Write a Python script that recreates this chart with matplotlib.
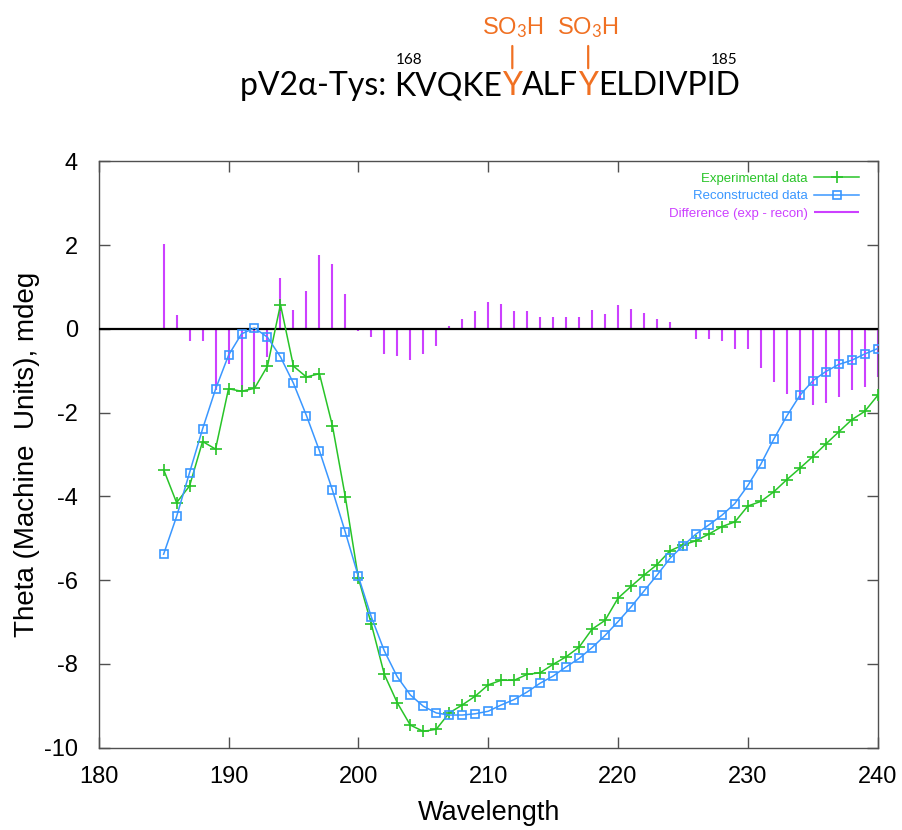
import matplotlib
matplotlib.use("Agg")
import matplotlib.pyplot as plt

# ---------------- data ----------------
wavelength = list(range(185, 241))

experimental = [
    -3.36, -4.15, -3.75, -2.69, -2.87, -1.43, -1.49, -1.42, -0.89, 0.58,
    -0.89, -1.15, -1.07, -2.31, -4.02, -5.95, -7.05, -8.25, -8.93, -9.46,
    -9.61, -9.56, -9.17, -8.98, -8.77, -8.50, -8.39, -8.39, -8.25, -8.21,
    -8.01, -7.83, -7.60, -7.17, -6.96, -6.43, -6.15, -5.88, -5.63, -5.30,
    -5.16, -5.06, -4.90, -4.72, -4.61, -4.23, -4.12, -3.89, -3.60, -3.33,
    -3.05, -2.75, -2.46, -2.17, -1.97, -1.59,
]

reconstructed = [
    -5.38, -4.48, -3.43, -2.39, -1.44, -0.63, -0.12, 0.02, -0.20, -0.67,
    -1.30, -2.07, -2.91, -3.85, -4.86, -5.91, -6.88, -7.69, -8.31, -8.74,
    -9.01, -9.17, -9.22, -9.22, -9.19, -9.13, -8.98, -8.85, -8.67, -8.46,
    -8.29, -8.07, -7.87, -7.61, -7.32, -6.99, -6.64, -6.26, -5.88, -5.48,
    -5.18, -4.90, -4.68, -4.45, -4.17, -3.74, -3.23, -2.63, -2.08, -1.59,
    -1.24, -1.02, -0.85, -0.75, -0.60, -0.47,
]

difference = [
    2.02, 0.32, -0.30, -0.30, -1.47, -0.83, -1.47, -1.43, -0.67, 1.22,
    0.46, 0.90, 1.77, 1.54, 0.84, -0.05, -0.20, -0.59, -0.66, -0.75,
    -0.59, -0.42, 0.06, 0.24, 0.42, 0.63, 0.59, 0.42, 0.42, 0.28,
    0.28, 0.28, 0.28, 0.45, 0.35, 0.56, 0.48, 0.39, 0.24, 0.17,
    0.03, -0.24, -0.24, -0.28, -0.48, -0.48, -0.94, -1.28, -1.56, -1.71,
    -1.81, -1.77, -1.63, -1.45, -1.39, -1.15,
]

x_ticks = [180, 190, 200, 210, 220, 230, 240]
y_ticks = [4, 2, 0, -2, -4, -6, -8, -10]

labels = ["Experimental data", "Reconstructed data", "Difference (exp - recon)"]
x_label = "Wavelength"
y_label = "Theta (Machine  Units), mdeg"

seq_prefix = "pV2\u03b1-Tys: "
seq_parts = ["KVQKE", "Y", "ALF", "Y", "ELDIVPID"]
seq_start, seq_end = "168", "185"
sulfo = "SO$_3$H"

# ---------------- style ----------------
GREEN = "#28c428"
BLUE = "#3a97ff"
MAGENTA = "#cc40ff"
ORANGE = "#f07022"
FRAME = "#505050"

plt.rcParams["font.family"] = ["Liberation Sans", "DejaVu Sans"]
plt.rcParams["axes.unicode_minus"] = False
plt.rcParams["mathtext.fontset"] = "custom"
plt.rcParams["mathtext.rm"] = "Lato"
plt.rcParams["mathtext.it"] = "Lato:italic"
plt.rcParams["mathtext.bf"] = "Lato:bold"

W, H = 902, 830
fig = plt.figure(figsize=(W / 100, H / 100), dpi=100)

left, right, top, bottom = 98.7, 877.7, 161.3, 747.7
ax = fig.add_axes([left / W, 1 - bottom / H, (right - left) / W, (bottom - top) / H])

# difference sticks
ax.vlines(wavelength, 0, difference, color=MAGENTA, lw=1.5, zorder=2,
          label=labels[2], clip_on=False)
ax.axhline(0, color="black", lw=1.6, zorder=3)

ax.plot(wavelength, experimental, color=GREEN, lw=1.1, marker="+",
        markersize=9, markeredgewidth=1.2, zorder=4, label=labels[0])
ax.plot(wavelength, reconstructed, color=BLUE, lw=1.1, marker="s",
        markersize=6.3, markerfacecolor="none", markeredgewidth=1.2,
        zorder=5, label=labels[1])

ax.set_xlim(180, 240)
ax.set_ylim(-10, 4)
ax.set_xticks(x_ticks)
ax.set_yticks(y_ticks)
ax.tick_params(direction="in", length=8, width=1.0, color=FRAME,
               top=True, right=True, labelsize=17)
ax.tick_params(axis="y", pad=15)
ax.tick_params(axis="x", pad=13)
for s in ax.spines.values():
    s.set_color(FRAME)
    s.set_linewidth(1.0)

fig.text(489 / W, 1 - 800 / H, x_label, ha="center", va="top", fontsize=19.5)
fig.text(27 / W, 1 - 454.5 / H, y_label, ha="center", va="center",
         rotation=90, fontsize=20)

# legend
hdl, lab = ax.get_legend_handles_labels()
hd = {lb: hn for hn, lb in zip(hdl, lab)}
leg = ax.legend([hd[x] for x in labels], labels, loc="upper right",
                frameon=False, markerfirst=False, numpoints=1,
                fontsize=9.5, handlelength=3.4, handletextpad=0.5,
                labelspacing=0.42, borderaxespad=0.3,
                bbox_to_anchor=(0.988, 0.997))
for t, c in zip(leg.get_texts(), [GREEN, BLUE, MAGENTA]):
    t.set_color(c)

# ---------------- header (peptide sequence) ----------------
HFS = 23
hfam = ["Lato", "DejaVu Sans"]
t0 = fig.text(240 / W, 1 - 95 / H, seq_prefix, fontsize=HFS, family=hfam,
              va="baseline", ha="left")
prev = t0
pieces = []
for part in seq_parts:
    col = ORANGE if part == "Y" else "black"
    ann = ax.annotate(part, xy=(1, 0), xycoords=prev, va="bottom", ha="left",
                      fontsize=HFS, family=hfam, color=col,
                      annotation_clip=False)
    pieces.append(ann)
    prev = ann

ax.annotate(seq_start, xy=(0, 1), xycoords=pieces[0], xytext=(1, 3),
            textcoords="offset points", ha="left", va="bottom",
            fontsize=11, family=hfam, annotation_clip=False)
ax.annotate(seq_end, xy=(1, 1), xycoords=pieces[-1], xytext=(-2, 3),
            textcoords="offset points", ha="right", va="bottom",
            fontsize=11, family=hfam, annotation_clip=False)

for p in (pieces[1], pieces[3]):
    ax.annotate(sulfo, xy=(0.5, 1), xycoords=p, xytext=(0, 22),
                textcoords="offset points", ha="center", va="bottom",
                fontsize=17, color=ORANGE, annotation_clip=False,
                arrowprops=dict(arrowstyle="-", color=ORANGE, lw=1.6,
                                shrinkA=2, shrinkB=2))

fig.savefig("out.png", dpi=100)
